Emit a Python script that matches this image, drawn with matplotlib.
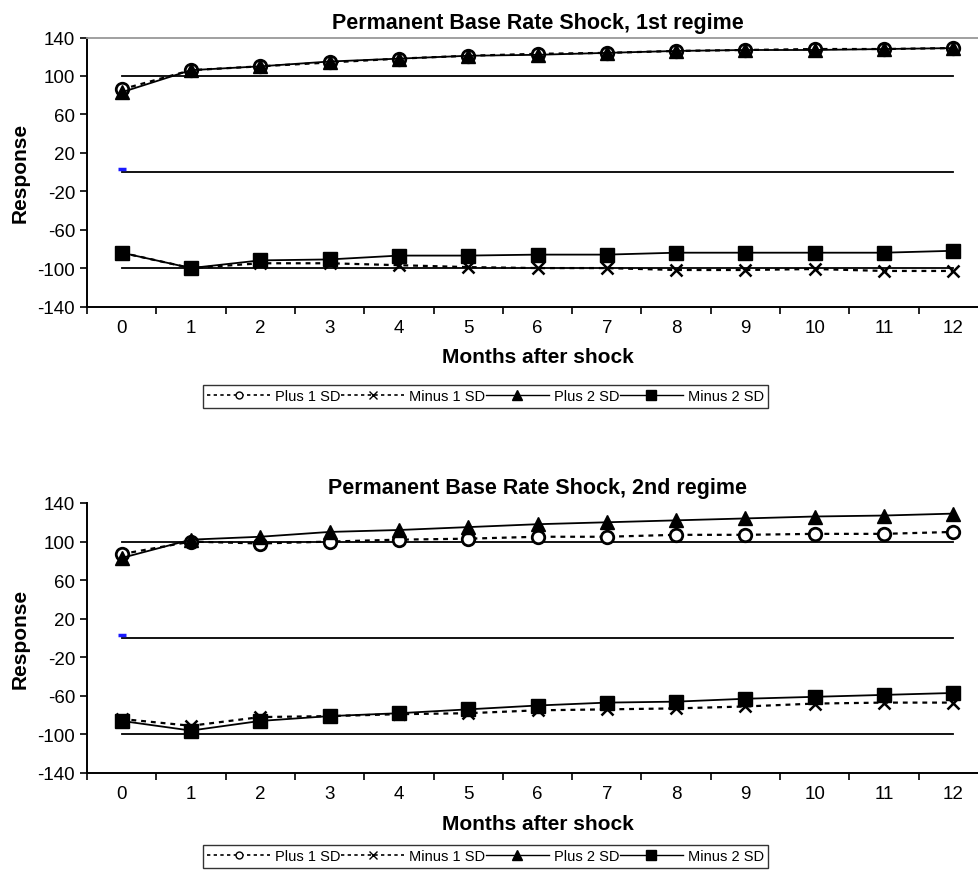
import matplotlib
matplotlib.use("Agg")
import matplotlib.pyplot as plt
from matplotlib.lines import Line2D
import numpy as np

plt.rcParams["font.family"] = ["Liberation Sans", "DejaVu Sans"]

months = list(range(13))
yticks = [140, 100, 60, 20, -20, -60, -100, -140]
series_names = ["Plus 1 SD", "Minus 1 SD", "Plus 2 SD", "Minus 2 SD"]

# 1st regime
r1_plus1 = [86, 106, 110, 114, 118, 121, 123, 124, 126, 127, 128, 128, 129]
r1_minus1 = [-84, -100, -95, -95, -97, -99, -100, -100, -102, -102, -101, -103, -103]
r1_plus2 = [83, 106, 110, 115, 118, 121, 122, 124, 126, 127, 127, 128, 129]
r1_minus2 = [-84, -100, -92, -91, -87, -87, -86, -86, -84, -84, -84, -84, -82]

# 2nd regime
r2_plus1 = [87, 100, 98, 100, 102, 103, 105, 105, 107, 107, 108, 108, 110]
r2_minus1 = [-84, -91, -82, -81, -79, -78, -75, -74, -73, -71, -68, -67, -67]
r2_plus2 = [83, 102, 105, 110, 112, 115, 118, 120, 122, 124, 126, 127, 129]
r2_minus2 = [-86, -96, -86, -81, -78, -74, -70, -67, -66, -63, -61, -59, -57]

ref_levels = [100, 0, -100]
blue_mark = 3

W, H = 979, 879
fig = plt.figure(figsize=(W / 100, H / 100), dpi=100)


def px_axes(left, top, right, bottom):
    return fig.add_axes([left / W, 1 - bottom / H, (right - left) / W, (bottom - top) / H])


def draw_panel(ax, title, plus1, minus1, plus2, minus2, legend_top, gray_top):
    x = np.array(months)
    for lvl in ref_levels:
        ax.plot(x, [lvl] * len(x), color="black", lw=1.3, zorder=2)
    ax.plot([0], [blue_mark], marker="_", color="#1a1aff", ms=6, mew=2.5, zorder=3)

    dash = (0, (2.2, 2.2))
    ax.plot(x, plus1, color="black", lw=1.6, ls=dash, marker="o", ms=9,
            mfc="white", mec="black", mew=2, zorder=4)
    ax.plot(x, minus1, color="black", lw=1.6, ls=dash, marker="x", ms=8,
            mec="black", mew=1.8, zorder=4)
    ax.plot(x, plus2, color="black", lw=1.3, marker="^", ms=9.5,
            mfc="black", mec="black", zorder=5)
    ax.plot(x, minus2, color="black", lw=1.3, marker="s", ms=9.5,
            mfc="black", mec="black", zorder=5)

    ax.set_xlim(-0.5, 12.5)
    ax.set_ylim(-140, 140)
    ax.set_yticks(yticks)
    ax.set_yticklabels([str(v) for v in yticks])
    ax.set_xticks(np.arange(-0.5, 13, 1))
    ax.set_xticklabels([])
    ax.set_xticks(x, minor=True)
    ax.set_xticklabels([str(m) for m in months], minor=True)
    ax.tick_params(axis="x", which="major", direction="out", length=5, width=1.2)
    ax.tick_params(axis="x", which="minor", length=0, pad=9, labelsize=13.5)
    ax.tick_params(axis="y", direction="out", length=5, width=1.2, pad=3.5, labelsize=13.5)

    for side in ["left", "bottom"]:
        ax.spines[side].set_linewidth(1.4)
    ax.spines["right"].set_visible(False)
    if gray_top:
        ax.spines["top"].set_color("#999999")
        ax.spines["top"].set_linewidth(1.3)
    else:
        ax.spines["top"].set_visible(False)

    ax.set_title(title, fontsize=15.5, fontweight="bold", pad=7)
    ax.set_xlabel("Months after shock", fontsize=15, fontweight="bold")
    ax.set_ylabel("Response", fontsize=15, fontweight="bold")
    ax.xaxis.set_label_coords(0.5, -0.186)
    ax.xaxis.label.set_va("center")
    ax.yaxis.set_label_coords(-0.074, 0.5)
    ax.yaxis.label.set_va("center")

    handles = [
        Line2D([], [], color="black", lw=1.2, ls=(0, (2, 2)), marker="o", ms=5,
               mfc="white", mec="black", mew=1),
        Line2D([], [], color="black", lw=1.2, ls=(0, (2, 2)), marker="x", ms=6,
               mec="black", mew=1),
        Line2D([], [], color="black", lw=1.0, marker="^", ms=6.5, mfc="black", mec="black"),
        Line2D([], [], color="black", lw=1.0, marker="s", ms=6.5, mfc="black", mec="black"),
    ]
    leg = fig.legend(handles, series_names, loc="upper left",
                     bbox_to_anchor=(203 / W, 1 - legend_top / H),
                     bbox_transform=fig.transFigure, ncol=4, fontsize=10.5,
                     handlelength=4.3, handletextpad=0.35, columnspacing=0.05,
                     borderpad=0.3, borderaxespad=0, fancybox=False, frameon=True)
    leg.get_frame().set_edgecolor("black")
    leg.get_frame().set_linewidth(1.0)


ax1 = px_axes(87, 38.5, 988, 307.5)
draw_panel(ax1, "Permanent Base Rate Shock, 1st regime",
           r1_plus1, r1_minus1, r1_plus2, r1_minus2, 386, True)

ax2 = px_axes(87, 504, 988, 774)
draw_panel(ax2, "Permanent Base Rate Shock, 2nd regime",
           r2_plus1, r2_minus1, r2_plus2, r2_minus2, 846, False)

fig.savefig("out.png", dpi=100)
